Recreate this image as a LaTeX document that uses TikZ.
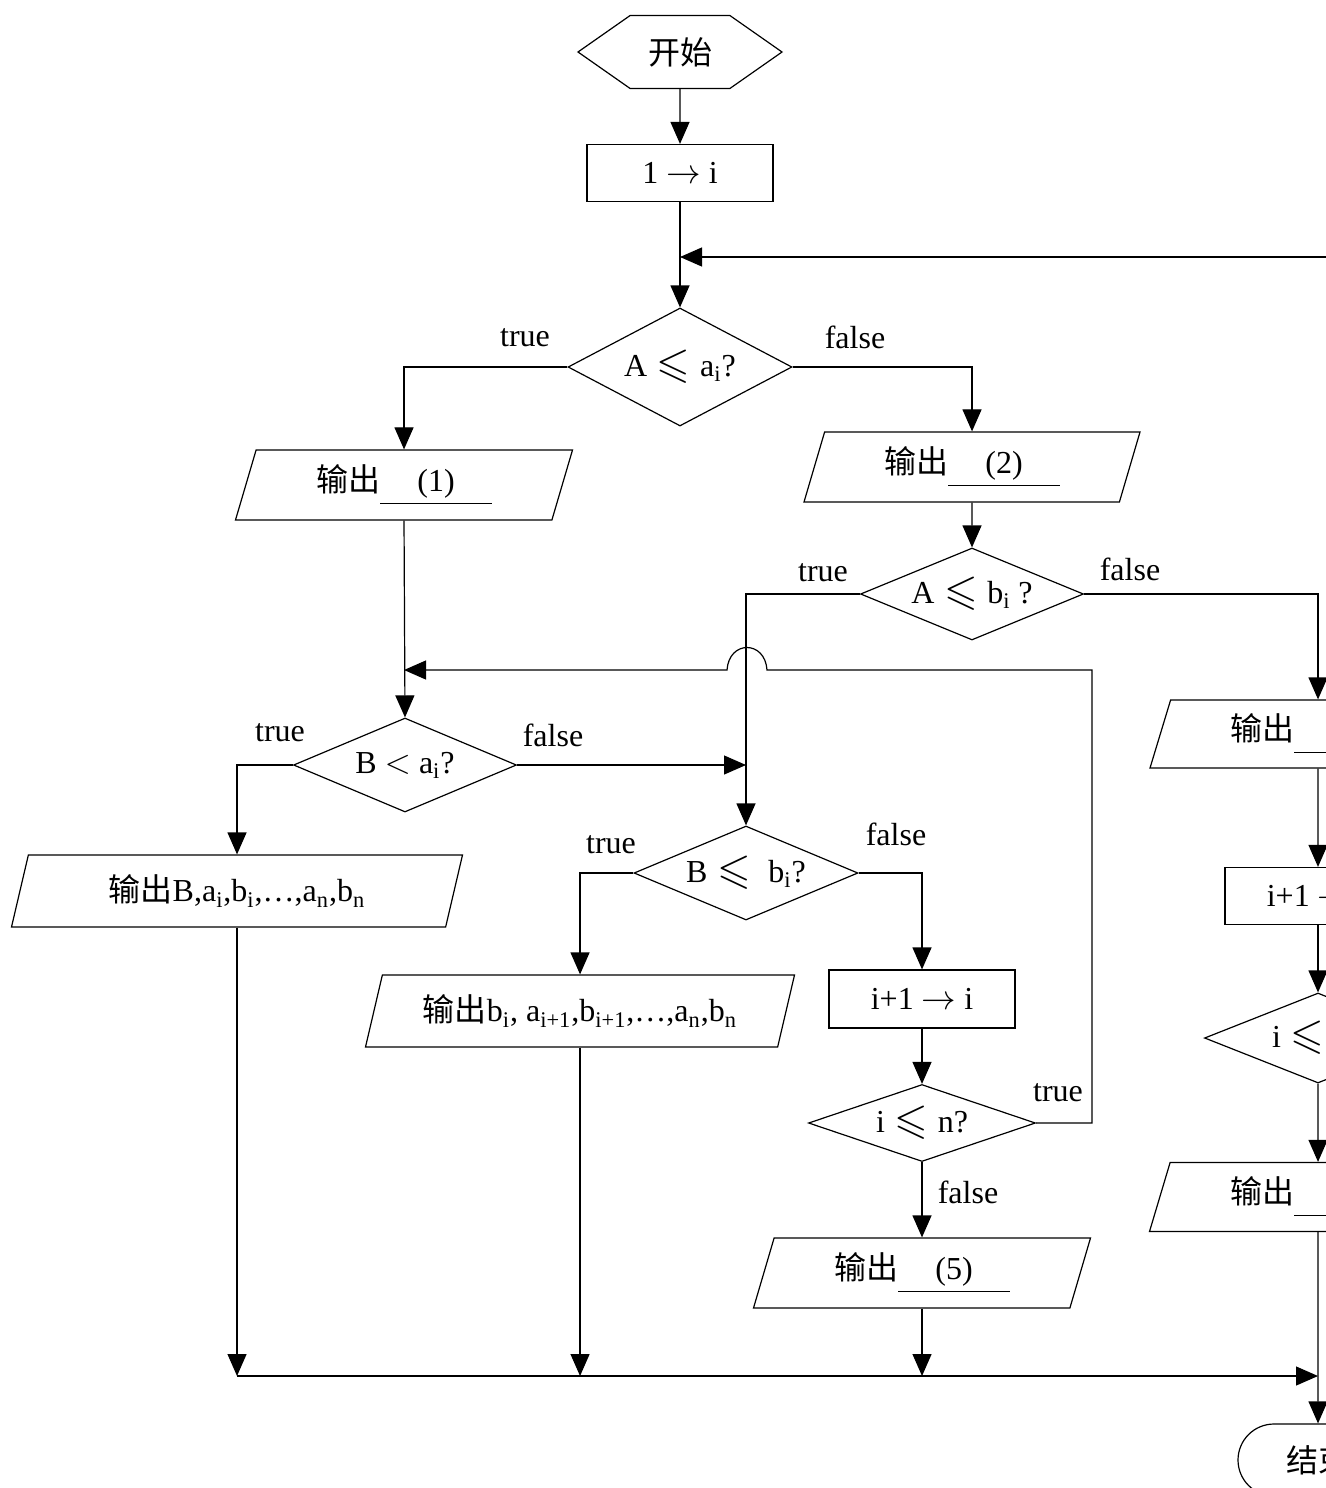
\documentclass[tikz,border=0pt]{standalone}
\usepackage{amssymb}
\usepackage{fontspec}
\setmainfont{Liberation Serif}
\newfontfamily\cjk{Noto Sans CJK SC}
\usetikzlibrary{arrows.meta, positioning, calc, shapes.geometric, shapes.symbols, shapes.misc}

\newcommand\flowfont{\fontsize{16}{19}\selectfont}
\newcommand\blank[1]{\underline{\hspace{1em}\,(#1)\,\hspace{1em}}}
\newcommand\lesym{\hspace{0.3em}\raisebox{-0.1ex}{\scalebox{1.35}{$\leqslant$}}\hspace{0.3em}}

\begin{document}
\begin{tikzpicture}[x=0.5pt, y=-0.5pt,
    every node/.style={font=\flowfont, inner sep=1pt},
    box/.style={draw, line width=0.6pt},
    startstop/.style={box, signal, signal to=east and west, signal pointer angle=70,
        minimum width=102pt, minimum height=36.5pt},
    finish/.style={box, rounded rectangle, minimum width=82pt, minimum height=36pt},
    proc/.style={box, rectangle, minimum width=93pt, minimum height=28.5pt},
    io/.style={box, trapezium, trapezium left angle=65, trapezium right angle=115,
        trapezium stretches body, minimum height=35pt},
    cond/.style={box, diamond, aspect=2.5, minimum width=112pt, minimum height=47pt},
    arr/.style={line width=0.6pt, -{Triangle[length=11pt, width=9.5pt]}},
    flow/.style={line width=0.6pt}]
    \useasboundingbox (0,0) rectangle (1326,1488);
    \fill[white] (0,0) rectangle (1326,1488);
    \clip (0,0) rectangle (1326,1488);

    % main column
    \node[startstop] (start) at (680,52) {\cjk 开始};
    \node[proc] (init) at (680,173) {1 $\to$ i};
    \node[cond, minimum height=59pt] (d1) at (680,367) {A\lesym a\textsubscript{i}?};
    \node[io, minimum width=168.5pt] (out1) at (404,485) {{\cjk 输出}\blank{1}};
    \node[io, minimum width=168pt] (out2) at (972,467) {{\cjk 输出}\blank{2}};
    \node[cond, minimum width=111.5pt, minimum height=46pt] (d2) at (972,594) {A\lesym b\textsubscript{i} ?};

    % right column
    \node[io, minimum width=168pt, minimum height=34pt] (out3) at (1318,734) {{\cjk 输出}\blank{3}};
    \node[proc] (inc2) at (1318,896) {i+1 $\to$ i};
    \node[cond, minimum width=113.5pt, minimum height=45pt] (d6) at (1318,1038) {i\lesym n?};
    \node[io, minimum width=168.5pt, minimum height=34.5pt] (out4) at (1318,1197) {{\cjk 输出}\blank{4}};
    \node[finish] (stop) at (1318,1460) {\cjk 结束};

    % inner loop
    \node[cond, minimum width=111.5pt] (d3) at (405,765) {B $<$ a\textsubscript{i}?};
    \node[io, minimum width=225.5pt, minimum height=36pt] (outB) at (237,891)
        {{\cjk 输出}B,a\textsubscript{i},b\textsubscript{i},\ldots,a\textsubscript{n},b\textsubscript{n}};
    \node[cond] (d4) at (746,873) {B\lesym\ b\textsubscript{i}?};
    \node[io, minimum width=214.5pt, minimum height=36pt] (outb) at (580,1011)
        {{\cjk 输出}b\textsubscript{i}, a\textsubscript{i+1},b\textsubscript{i+1},\ldots,a\textsubscript{n},b\textsubscript{n}};
    \node[proc, minimum height=29pt] (inc) at (922,999) {i+1 $\to$ i};
    \node[cond, minimum width=113.5pt, minimum height=38.5pt] (d5) at (922,1123) {i\lesym n?};
    \node[io, minimum width=168.5pt] (out5) at (922,1273) {{\cjk 输出}\blank{5}};

    % branch labels
    \node (t1) at (525,338) {true};
    \node (f1) at (855,337) {false};
    \node (t2) at (823,573) {true};
    \node (f2) at (1130,569) {false};
    \node (t3) at (280,733) {true};
    \node (f3) at (553,735) {false};
    \node (t4) at (611,845) {true};
    \node (f4) at (896,834) {false};
    \node (t5) at (1058,1093) {true};
    \node (f5) at (968,1192) {false};

    \coordinate (back) at (1340,257);
    \coordinate (loopR) at (1092,670);
    \coordinate (bot) at (0,1376);

    \draw[arr] (start) -- (init);
    \draw[arr] (init) -- (d1);
    \draw[arr] (back) -- (d1.north |- back);
    \draw[arr] (d1.west) -| (out1.north);
    \draw[arr] (d1.east) -| (out2.north);
    \draw[arr] (out2) -- (d2);
    \draw[arr] (d2.west) -| (d4.north);
    \draw[arr] (d2.east) -| (out3.north);
    \draw[arr] (out3) -- (inc2);
    \draw[arr] (inc2) -- (d6);
    \draw[arr] (d6) -- (out4);
    \draw[arr] (out4) -- (stop);

    \draw[arr] (out1.south) -- (d3.north);
    \draw[arr] (d3.west) -| (outB.north);
    \draw[arr] (d3.east) -- (d4.north |- d3.east);
    \draw[arr] (d4.west) -| (outb.north);
    \draw[arr] (d4.east) -| (inc.north);
    \draw[arr] (inc) -- (d5);
    \draw[arr] (d5) -- (out5);

    % back to B < ai, hopping over the true line of A <= bi
    \draw[arr] (d5.east) -| (loopR)
        -- ($(d4.north |- loopR)+(21,0)$)
        .. controls ($(d4.north |- loopR)+(19,-30)$) and ($(d4.north |- loopR)+(-17,-30)$)
        .. ($(d4.north |- loopR)+(-19,0)$)
        -- (out1.south |- loopR);

    \draw[arr] (outB.south) -- (outB.south |- bot);
    \draw[arr] (outb.south) -- (outb.south |- bot);
    \draw[arr] (out5.south) -- (out5.south |- bot);
    \draw[arr] (outB.south |- bot) -- (stop.north |- bot);
\end{tikzpicture}
\end{document}
